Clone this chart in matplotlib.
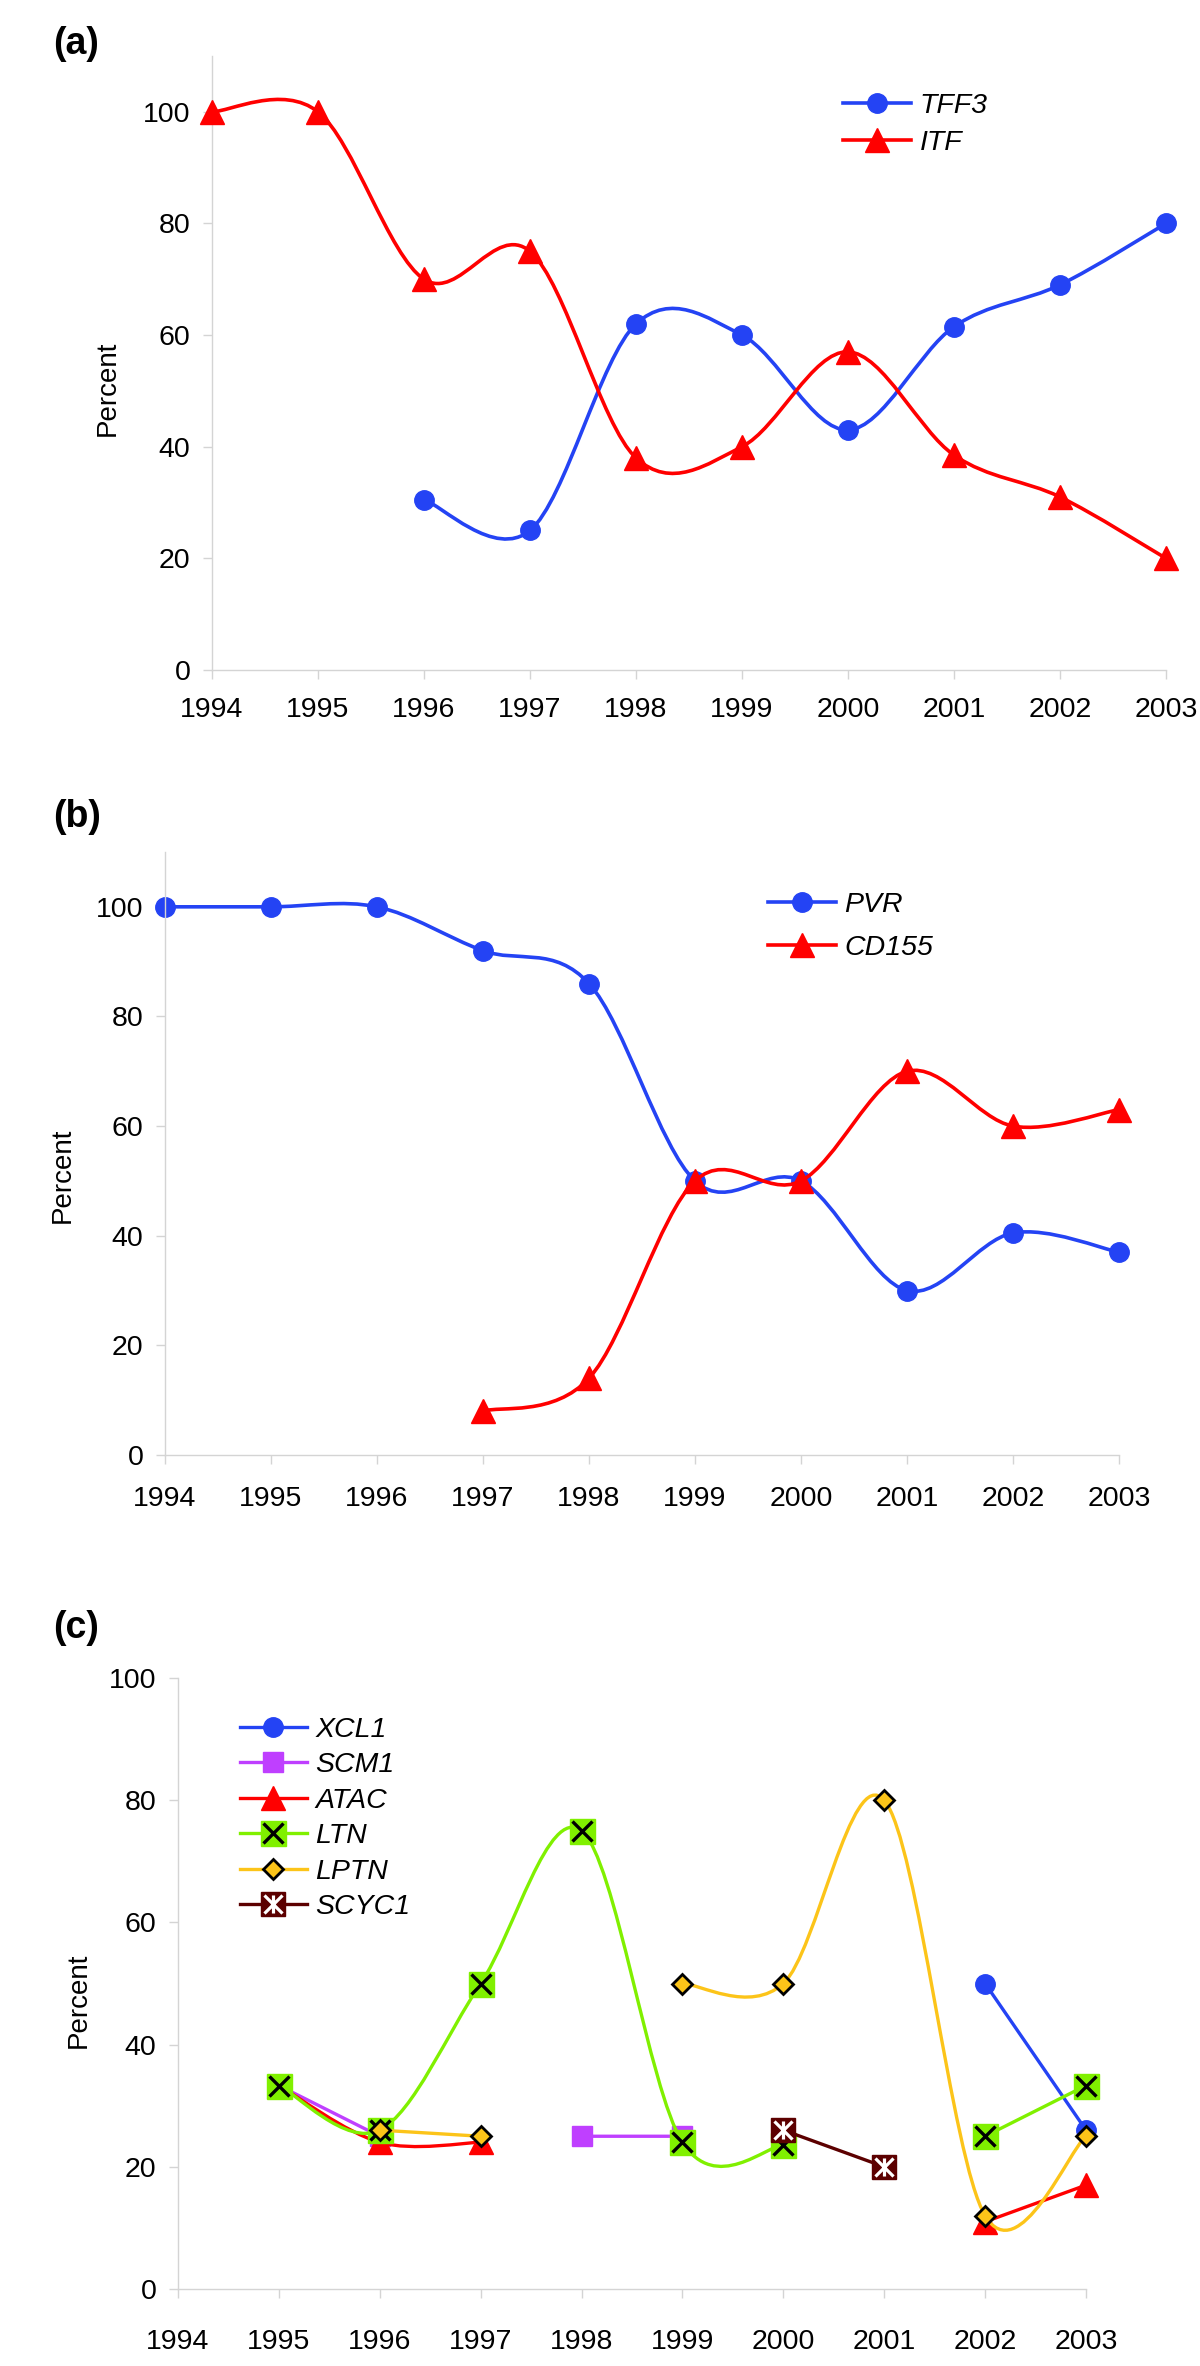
import numpy as np
import matplotlib
matplotlib.use("Agg")
import matplotlib.pyplot as plt
from matplotlib.path import Path
from matplotlib.patches import PathPatch
from matplotlib.lines import Line2D

plt.rcParams['font.family'] = ['Liberation Sans', 'DejaVu Sans']

nan = np.nan
years = np.arange(1994, 2004)

# (a)
tff3 = [nan, nan, 30.5, 25, 62, 60, 43, 61.5, 69, 80]
itf = [100, 100, 70, 75, 38, 40, 57, 38.5, 31, 20]

# (b)
pvr = [100, 100, 100, 92, 86, 50, 50, 30, 40.5, 37]
cd155 = [nan, nan, nan, 8, 14, 50, 50, 70, 60, 63]

# (c)
xcl1 = [nan, nan, nan, nan, nan, nan, nan, nan, 50, 26]
scm1 = [nan, 33.3, 25, nan, 25, 25, nan, nan, nan, nan]
atac = [nan, 33.3, 24, 24, nan, nan, nan, nan, 11, 17]
ltn = [nan, 33.3, 26, 50, 75, 24, 23.5, nan, 25, 33.3]
lptn = [nan, nan, 26, 25, nan, 50, 50, 80, 12, 25]
scyc1 = [nan, nan, nan, nan, nan, nan, 26, 20, nan, nan]

BLUE = '#2443F4'
RED = '#FF0000'
PURPLE = '#BF3FFF'
GREEN = '#80F000'
GOLD = '#FCC419'
MAROON = '#5C0000'
GREY = '#d4d4d4'

star = Path([(-1, -1), (1, 1), (-1, 1), (1, -1), (0, -1), (0, 1)],
            [Path.MOVETO, Path.LINETO, Path.MOVETO, Path.LINETO, Path.MOVETO, Path.LINETO])


def smooth(ax, x, y, color, lw, z):
    # excel style smoothed line, one piece per run of values
    x = np.asarray(x, float)
    y = np.asarray(y, float)
    runs, cur = [], []
    for i in range(len(x)):
        if not np.isnan(y[i]):
            cur.append(i)
        elif cur:
            runs.append(cur)
            cur = []
    if cur:
        runs.append(cur)
    for r in runs:
        if len(r) < 2:
            continue
        px, py = x[r], y[r]
        n = len(r)
        verts = [(px[0], py[0])]
        codes = [Path.MOVETO]
        for k in range(n - 1):
            k0 = max(k - 1, 0)
            k3 = min(k + 2, n - 1)
            c1 = (px[k] + (px[k + 1] - px[k0]) / 6, py[k] + (py[k + 1] - py[k0]) / 6)
            c2 = (px[k + 1] - (px[k3] - px[k]) / 6, py[k + 1] - (py[k3] - py[k]) / 6)
            verts += [c1, c2, (px[k + 1], py[k + 1])]
            codes += [Path.CURVE4] * 3
        ax.add_patch(PathPatch(Path(verts, codes), fill=False, edgecolor=color,
                               lw=lw, zorder=z, clip_on=False,
                               capstyle='round', joinstyle='round'))


def style(ax, top, xpad):
    ax.set_xlim(1994, 2003)
    ax.set_ylim(0, top)
    for s in ['top', 'right']:
        ax.spines[s].set_visible(False)
    for s in ['left', 'bottom']:
        ax.spines[s].set_color(GREY)
        ax.spines[s].set_linewidth(1)
    ax.set_xticks(years)
    ax.set_yticks(range(0, 101, 20))
    ax.tick_params(colors=GREY, labelcolor='black', length=6.5, width=1, labelsize=20.5)
    ax.tick_params(axis='x', pad=xpad)
    ax.tick_params(axis='y', pad=9)


fig = plt.figure(figsize=(12, 23.66), dpi=100)
W, H = 1200.0, 2366.0


def axes_px(l, r, t, b):
    return fig.add_axes([l / W, 1 - b / H, (r - l) / W, (b - t) / H])


leg_kw = dict(loc='upper left', frameon=False, borderpad=0, borderaxespad=0,
              numpoints=1, handletextpad=0.29,
              prop={'style': 'italic', 'size': 20.5})

LW = 2.6

# ---------- (a)
ax = axes_px(212, 1166, 56, 670)
style(ax, 110, 13)
smooth(ax, years, tff3, BLUE, LW, 2)
ax.plot(years, tff3, ls='none', marker='o', ms=14, color=BLUE, mec=BLUE, zorder=2.1, clip_on=False)
smooth(ax, years, itf, RED, LW, 3)
ax.plot(years, itf, ls='none', marker='^', ms=17, color=RED, mec=RED, zorder=3.1, clip_on=False)
ax.set_ylabel('Percent', fontsize=20)
ax.yaxis.set_label_coords(-0.096, 0.459)
h = [Line2D([], [], color=BLUE, lw=LW, marker='o', ms=14),
     Line2D([], [], color=RED, lw=LW, marker='^', ms=17)]
ax.legend(h, ['TFF3', 'ITF'], bbox_to_anchor=(843 / W, 1 - 93 / H),
          bbox_transform=fig.transFigure, handlelength=2.4, labelspacing=0.4, **leg_kw)
fig.text(53 / W, 1 - 44 / H, '(a)', fontsize=27, fontweight='bold', va='center', ha='left')

# ---------- (b)
ax = axes_px(165, 1119, 852, 1455)
style(ax, 110, 16)
smooth(ax, years, pvr, BLUE, LW, 2)
ax.plot(years, pvr, ls='none', marker='o', ms=14, color=BLUE, mec=BLUE, zorder=2.1, clip_on=False)
smooth(ax, years, cd155, RED, LW, 3)
ax.plot(years, cd155, ls='none', marker='^', ms=17, color=RED, mec=RED, zorder=3.1, clip_on=False)
ax.set_ylabel('Percent', fontsize=20)
ax.yaxis.set_label_coords(-0.094, 0.463)
h = [Line2D([], [], color=BLUE, lw=LW, marker='o', ms=14),
     Line2D([], [], color=RED, lw=LW, marker='^', ms=17)]
ax.legend(h, ['PVR', 'CD155'], bbox_to_anchor=(768 / W, 1 - 892 / H),
          bbox_transform=fig.transFigure, handlelength=2.4, labelspacing=0.6, **leg_kw)
fig.text(53 / W, 1 - 817 / H, '(b)', fontsize=27, fontweight='bold', va='center', ha='left')

# ---------- (c)
ax = axes_px(178, 1086, 1678, 2289)
style(ax, 100, 22)
lw = 2.4
smooth(ax, years, xcl1, BLUE, lw, 2)
ax.plot(years, xcl1, ls='none', marker='o', ms=14, color=BLUE, mec=BLUE, zorder=2.05, clip_on=False)
smooth(ax, years, scm1, PURPLE, lw, 2.2)
ax.plot(years, scm1, ls='none', marker='s', ms=14, color=PURPLE, mec=PURPLE, zorder=2.25, clip_on=False)
smooth(ax, years, atac, RED, lw, 2.4)
ax.plot(years, atac, ls='none', marker='^', ms=17, color=RED, mec=RED, zorder=2.45, clip_on=False)
smooth(ax, years, ltn, GREEN, lw, 2.6)
ax.plot(years, ltn, ls='none', marker='s', ms=18, color=GREEN, mec=GREEN, zorder=2.65, clip_on=False)
ax.plot(years, ltn, ls='none', marker='x', ms=14, mec='black', mew=2.4, zorder=2.66, clip_on=False)
smooth(ax, years, lptn, GOLD, lw, 2.8)
ax.plot(years, lptn, ls='none', marker='D', ms=10.5, mfc=GOLD, mec='black', mew=2.0, zorder=2.85, clip_on=False)
smooth(ax, years, scyc1, MAROON, lw, 3.0)
ax.plot(years, scyc1, ls='none', marker='s', ms=17.5, color=MAROON, mec=MAROON, zorder=3.05, clip_on=False)
ax.plot(years, scyc1, ls='none', marker=star, ms=13, mfc='none', mec='white', mew=2.3, zorder=3.06, clip_on=False)
ax.set_ylabel('Percent', fontsize=20)
ax.yaxis.set_label_coords(-0.095, 0.473)
h = [Line2D([], [], color=BLUE, lw=lw, marker='o', ms=14),
     Line2D([], [], color=PURPLE, lw=lw, marker='s', ms=14),
     Line2D([], [], color=RED, lw=lw, marker='^', ms=17),
     (Line2D([], [], color=GREEN, lw=lw, marker='s', ms=18),
      Line2D([], [], ls='none', marker='x', ms=14, mec='black', mew=2.4)),
     Line2D([], [], color=GOLD, lw=lw, marker='D', ms=10.5, mfc=GOLD, mec='black', mew=2.0),
     (Line2D([], [], color=MAROON, lw=lw, marker='s', ms=17.5),
      Line2D([], [], ls='none', marker=star, ms=13, mfc='none', mec='white', mew=2.3))]
ax.legend(h, ['XCL1', 'SCM1', 'ATAC', 'LTN', 'LPTN', 'SCYC1'],
          bbox_to_anchor=(240 / W, 1 - 1717 / H), bbox_transform=fig.transFigure,
          handlelength=2.35, labelspacing=0.33, **leg_kw)
fig.text(53 / W, 1 - 1628 / H, '(c)', fontsize=27, fontweight='bold', va='center', ha='left')

fig.savefig('out.png', dpi=100)
